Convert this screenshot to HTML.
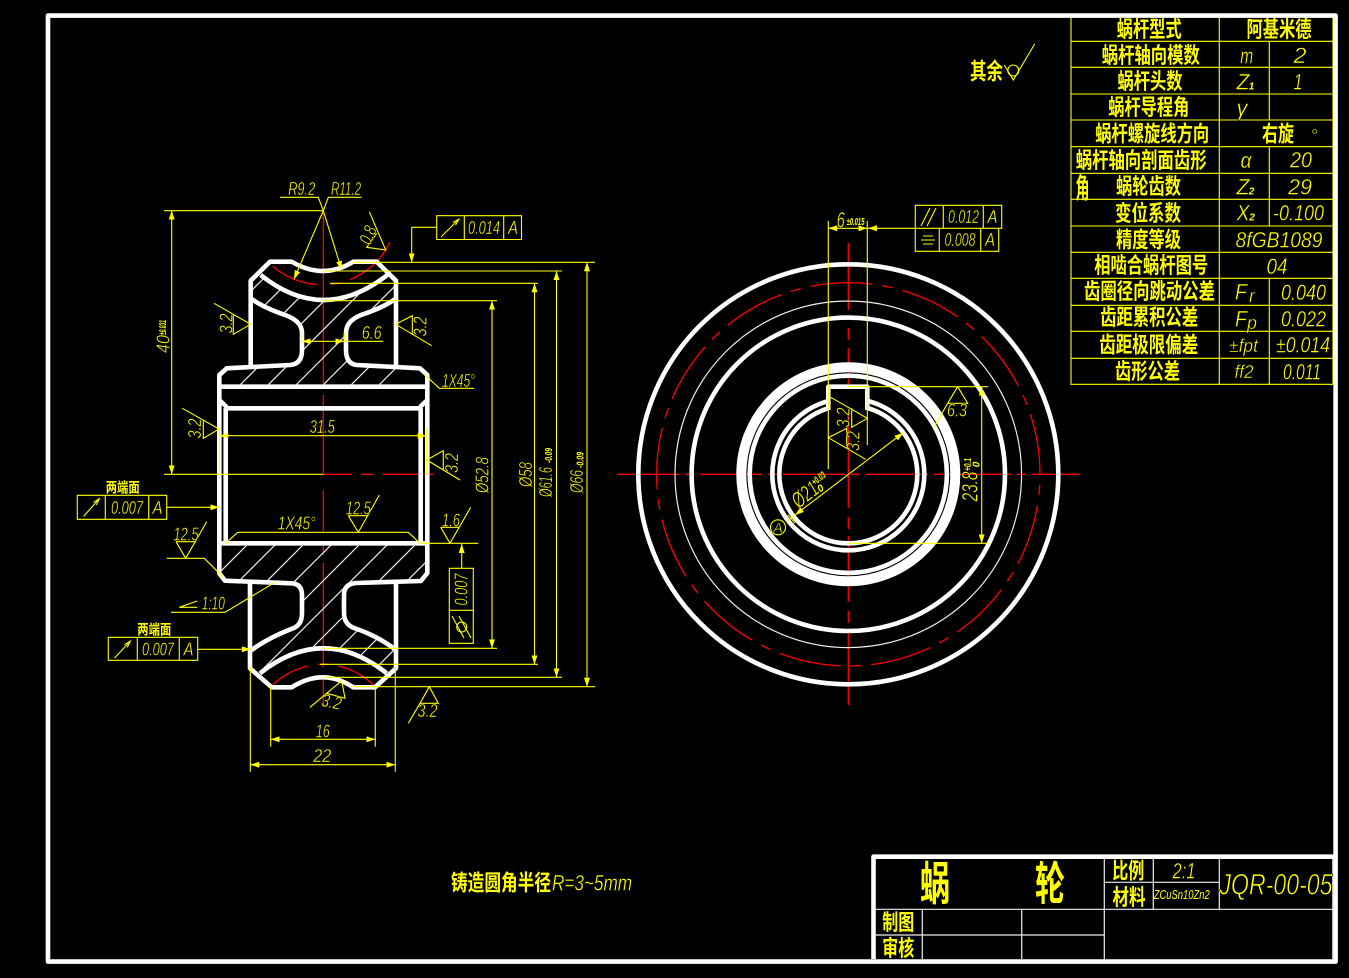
<!DOCTYPE html>
<html><head><meta charset="utf-8"><title>蜗轮</title>
<style>
html,body{margin:0;padding:0;background:#000}
svg{display:block}
text{dominant-baseline:central;text-anchor:middle;fill:#ff0}
.c{font-family:"Liberation Sans","Noto Sans CJK SC",sans-serif;font-weight:700;font-size:22px}
.l{font-family:"Liberation Sans",sans-serif;font-style:italic;font-size:22px;stroke:#000;stroke-width:.4px}
.s{font-size:18px}
.t{font-size:10px;stroke:none;font-weight:700}
.y{fill:none;stroke:#ff0;stroke-width:1.1}
.w{fill:none;stroke:#fff;stroke-width:4.6;stroke-linejoin:round}
.n{fill:none;stroke:#eee;stroke-width:1.2}
.r{fill:none;stroke:#f00;stroke-width:1.3}
</style></head><body>
<svg width="1349" height="978" viewBox="0 0 1349 978" xmlns="http://www.w3.org/2000/svg">
<defs>
<marker id="a" markerUnits="userSpaceOnUse" markerWidth="10" markerHeight="7" refX="9" refY="3" orient="auto-start-reverse"><path d="M0,0L9,3L0,6Z" fill="#ff0"/></marker>
<marker id="b" markerUnits="userSpaceOnUse" markerWidth="8" markerHeight="6" refX="7" refY="2.5" orient="auto"><path d="M0,0.5L7,2.5L0,4.5" fill="none" stroke="#ff0"/></marker>
<clipPath id="h1"><path d="M251,284L260.7,275Q323.3,325 387.3,275L396,282V298L361,315Q346,321 346,333V350Q346,364 357,365L420,368L427,375V387H219V375L227,368L290,365Q302,364 302,350V333Q302,321 285,315L251,298Z"/></clipPath>
<clipPath id="h2"><path d="M219,545H427V573L421,581L356,583Q344,584 344,595V613Q344,624 354,628Q378,636 396,650V668L387,673Q323,623 260,673L252,650Q268,638 293,628Q302,625 302,613V595Q302,584 292,583L225,581L219,573Z"/></clipPath>
</defs>
<rect width="1349" height="978" fill="#000"/>

<!-- red centre lines left view -->
<path class="r" d="M323.3,211V383M323.3,395V474M323.3,490V531M323.3,543V555M323.3,563V667M323.3,680V707M323.3,474.3H352M361,474.3H373M383,474.3H433"/>
<path class="r" d="M272.7,266A74,74 0 0 0 317,284.4M331,284.2L341,283M350,279.6A74,74 0 0 0 390,242M271,686.7A74,74 0 0 1 308.3,666M338.3,666A74,74 0 0 1 375,686.7M318,664.3H328"/>

<!-- hatch -->
<g clip-path="url(#h1)"><path class="n" d="M200,258L450,8M200,286L450,36M200,314L450,64M200,342L450,92M200,370L450,120M200,397L450,147M200,425L450,175M200,453L450,203M200,481L450,231M200,508L450,258M200,536L450,286M200,564L450,314"/></g>
<g clip-path="url(#h2)"><path class="n" d="M200,592L450,342M200,620L450,370M200,648L450,398M200,676L450,426M200,704L450,454M200,732L450,482M200,760L450,510M200,788L450,538M200,816L450,566M200,844L450,594M200,872L450,622"/></g>

<!-- left view white profile -->
<path class="w" d="M250.7,365V280.7L270,261.7H291.7Q323.3,280.3 353.3,261.7H376.7L396,280.7V365"/>
<path class="w" d="M260.7,275Q323.3,325 387.3,275"/>
<path class="w" d="M250.7,298.3Q262,307 285,315Q302,321 302,333V350Q302,364 290,365L226.7,368.3L219.3,375V543.3"/>
<path class="w" d="M396,298.3Q385,307 361,315Q346,321 346,333V350Q346,364 357,365L420,368.3L427.3,375V543.3"/>
<path class="w" d="M219.3,386.7H427.3M219.3,400L226.7,407M427.3,400L420,407M225.7,408.3H420.7M225.7,408.3V543.3M420.7,408.3V543.3M219.3,543.3H427.3"/>
<path class="w" d="M219.3,543.3V573.3L225,580.7L291.7,583.3Q302,584 302,595V613Q302,625 293,628.3Q268,638 251.7,650"/>
<path class="w" d="M427.3,543.3V573L421,581L356,583Q344,584 344,595V613Q344,624 354,628Q378,636 396,650"/>
<path class="w" d="M250,582V668.3L271.7,687.3H291.7Q323.3,667.3 353.3,687.3H375L396,668.3V582"/>
<path class="w" d="M260,673.3Q323.3,623.3 386.7,673.3"/>

<!-- left view yellow -->
<text class="l s" x="301.7" y="189" textLength="27" lengthAdjust="spacingAndGlyphs">R9.2</text>
<text class="l s" x="346" y="189" textLength="30" lengthAdjust="spacingAndGlyphs">R11.2</text>
<path class="y" d="M280,197.3H318.3L323.3,210.7M361.7,197.3H328.3L323.3,210.7"/>
<path class="y" d="M323.3,210.7L341.7,270" marker-end="url(#a)"/>
<path class="y" d="M323.3,210.7L294,279.3" marker-end="url(#a)"/>
<path class="y" d="M164,210.7H323.3M164,474.3H323.3"/>
<path class="y" d="M171.7,210.7V474.3" marker-start="url(#a)" marker-end="url(#a)"/>
<path class="y" d="M354,262.3H595M323.3,271H562M330,283.3H538M323.3,300.7H497M323.3,648.3H497M320,664.3H538M323.3,677.3H562M353.3,686.7H595"/>
<path class="y" d="M492,300.7V648.3" marker-start="url(#a)" marker-end="url(#a)"/>
<path class="y" d="M534.5,283.3V664.3" marker-start="url(#a)" marker-end="url(#a)"/>
<path class="y" d="M556.5,271V677.3" marker-start="url(#a)" marker-end="url(#a)"/>
<path class="y" d="M587,262.3V686.7" marker-start="url(#a)" marker-end="url(#a)"/>

<!-- 0.014 box -->
<path class="y" d="M436.7,215.7H521.5V239.5H436.7ZM464.3,215.7V239.5M503.7,215.7V239.5"/>
<path class="y" d="M436.7,227.3H411.7V262.3" marker-end="url(#a)"/>
<path class="y" d="M441,237L459,219" marker-end="url(#b)"/>
<text class="l s" x="484" y="228" textLength="32" lengthAdjust="spacingAndGlyphs">0.014</text>
<text class="l s" x="513" y="228" textLength="10" lengthAdjust="spacingAndGlyphs">A</text>

<!-- roughness marks -->
<path class="y" d="M369.3,211.7L385.7,250L366.7,247.3L376.7,233.3"/>
<text class="l s" transform="translate(368,235) rotate(-67)" x="0" y="0" textLength="18" lengthAdjust="spacingAndGlyphs">0.8</text>
<path class="y" d="M214,303.3L250.7,324.3L233.3,334.3V315"/>
<text class="l s" transform="translate(226.5,323.5) rotate(-90)" x="0" y="0" textLength="20" lengthAdjust="spacingAndGlyphs">3.2</text>
<path class="y" d="M431.7,345.7L395.7,324.3L412.3,315.7V335"/>
<text class="l s" transform="translate(420.5,326.5) rotate(-90)" x="0" y="0" textLength="20" lengthAdjust="spacingAndGlyphs">3.2</text>
<path class="y" d="M301.7,333V341.3M344.3,333V341.3"/>
<path class="y" d="M301.7,341.3H344.3" marker-start="url(#a)" marker-end="url(#a)"/>
<path class="y" d="M344.3,341.3H383.3"/>
<text class="l s" x="371.7" y="333" textLength="20" lengthAdjust="spacingAndGlyphs">6.6</text>
<path class="y" d="M423.3,373.3L439.3,388.3H474"/>
<text class="l s" x="458.5" y="381" textLength="33" lengthAdjust="spacingAndGlyphs">1X45°</text>
<path class="y" d="M219.3,428V474.3M426.7,428V474.3"/>
<path class="y" d="M219.3,435.7H426.7" marker-start="url(#a)" marker-end="url(#a)"/>
<text class="l s" x="322.3" y="427" textLength="25" lengthAdjust="spacingAndGlyphs">31.5</text>
<path class="y" d="M182.3,408.3L219,429L203.3,438.3V420"/>
<text class="l s" transform="translate(195,428.5) rotate(-90)" x="0" y="0" textLength="20" lengthAdjust="spacingAndGlyphs">3.2</text>
<path class="y" d="M460,480L426.7,460L443.3,450.7V470"/>
<text class="l s" transform="translate(452,463) rotate(-90)" x="0" y="0" textLength="20" lengthAdjust="spacingAndGlyphs">3.2</text>

<!-- rotated dims -->
<text class="l s" transform="translate(163.3,344) rotate(-90)" x="0" y="0" textLength="18" lengthAdjust="spacingAndGlyphs">40</text>
<text class="l t" transform="translate(163.5,327.5) rotate(-90)" x="0" y="0" textLength="15" lengthAdjust="spacingAndGlyphs">±0.031</text>
<text class="l s" transform="translate(482.7,475) rotate(-90)" x="0" y="0" textLength="36" lengthAdjust="spacingAndGlyphs">Ø52.8</text>
<text class="l s" transform="translate(526,474.5) rotate(-90)" x="0" y="0" textLength="25" lengthAdjust="spacingAndGlyphs">Ø58</text>
<text class="l s" transform="translate(546,482) rotate(-90)" x="0" y="0" textLength="30" lengthAdjust="spacingAndGlyphs">Ø61.6</text>
<text class="l t" transform="translate(549.5,455.5) rotate(-90)" x="0" y="0" textLength="15" lengthAdjust="spacingAndGlyphs">-0.09</text>
<text class="l s" transform="translate(577,481.5) rotate(-90)" x="0" y="0" textLength="23" lengthAdjust="spacingAndGlyphs">Ø66</text>
<text class="l t" transform="translate(581,460) rotate(-90)" x="0" y="0" textLength="16" lengthAdjust="spacingAndGlyphs">-0.09</text>

<!-- FCF left -->
<text class="c" style="font-size:14px" x="122.7" y="487.7" textLength="34" lengthAdjust="spacingAndGlyphs">两端面</text>
<path class="y" d="M77.3,495.3H166.7V519.3H77.3ZM105.3,495.3V519.3M148.7,495.3V519.3"/>
<path class="y" d="M166.7,507.3H219.3" marker-end="url(#a)"/>
<path class="y" d="M83.5,516.5L99.5,498.5" marker-end="url(#b)"/>
<text class="l s" x="127" y="508" textLength="32" lengthAdjust="spacingAndGlyphs">0.007</text>
<text class="l s" x="157.5" y="508" textLength="10" lengthAdjust="spacingAndGlyphs">A</text>
<text class="c" style="font-size:14px" x="154.3" y="629.3" textLength="34" lengthAdjust="spacingAndGlyphs">两端面</text>
<path class="y" d="M108.3,637.3H197.7V660.3H108.3ZM137.3,637.3V660.3M179.3,637.3V660.3"/>
<path class="y" d="M197.7,649.3H251" marker-end="url(#a)"/>
<path class="y" d="M114.5,658L130.5,641" marker-end="url(#b)"/>
<text class="l s" x="158" y="649.5" textLength="32" lengthAdjust="spacingAndGlyphs">0.007</text>
<text class="l s" x="188.5" y="649.5" textLength="10" lengthAdjust="spacingAndGlyphs">A</text>

<path class="y" d="M225.7,543.3L237.7,532.3H408.3L420,543.3H478.3"/>
<text class="l s" x="296.7" y="523.5" textLength="38" lengthAdjust="spacingAndGlyphs">1X45°</text>
<path class="y" d="M348.3,515.7H368.3M348.3,515.7L358.3,532.3L379.3,495"/>
<text class="l s" x="358.3" y="508.3" textLength="25" lengthAdjust="spacingAndGlyphs">12.5</text>
<path class="y" d="M440.7,527.3H459.3M440.7,527.3L450,543.3L470.7,507.3"/>
<text class="l s" x="451" y="520.7" textLength="18" lengthAdjust="spacingAndGlyphs">1.6</text>
<path class="y" d="M176,541.7H196M176,541.7L185.7,558.3L206.7,521.7M166.7,558.3H204.3L222.7,576.7"/>
<text class="l s" x="186" y="534.3" textLength="25" lengthAdjust="spacingAndGlyphs">12.5</text>
<path class="y" d="M171,612.3H225L275,582.3M197.3,601L179.3,607.3H197.3"/>
<text class="l s" x="213.3" y="603.5" textLength="23" lengthAdjust="spacingAndGlyphs">1:10</text>
<path class="y" d="M449.3,568.3H473.3V643.3H449.3ZM449.3,610.3H473.3"/>
<path class="y" d="M461.7,568.3V544" marker-end="url(#a)"/>
<text class="l s" transform="translate(461.7,589.5) rotate(-90)" x="0" y="0" textLength="32" lengthAdjust="spacingAndGlyphs">0.007</text>
<circle class="y" cx="461.7" cy="627" r="5"/>
<path class="y" d="M452,616L464,638M459,616L471,638"/>
<path class="y" d="M429.3,686.7L420,703.3H438.3ZM420,703.3L408.3,723.3"/>
<text class="l s" x="427.5" y="711" textLength="20" lengthAdjust="spacingAndGlyphs">3.2</text>
<path class="y" d="M310,707.3L341.7,680.7L345,698.3L326.7,693.3"/>
<text class="l s" transform="translate(331.5,702) rotate(12)" x="0" y="0" textLength="20" lengthAdjust="spacingAndGlyphs">3.2</text>
<path class="y" d="M270.7,686.7V746.7M375.3,686.7V746.7"/>
<path class="y" d="M270.7,739.3H375.3" marker-start="url(#a)" marker-end="url(#a)"/>
<text class="l s" x="322.7" y="731.5" textLength="14" lengthAdjust="spacingAndGlyphs">16</text>
<path class="y" d="M250.3,667V771.7M395.3,667V771.7"/>
<path class="y" d="M250.3,764.7H395.3" marker-start="url(#a)" marker-end="url(#a)"/>
<text class="l s" x="322.3" y="756" textLength="18" lengthAdjust="spacingAndGlyphs">22</text>

<!-- right view -->
<path class="r" d="M617,474.3H1080" stroke-dasharray="62 6 9 6"/>
<path class="r" d="M848.3,243V310M848.3,328V340M848.3,348V474M848.3,474V508M848.3,516.7V529M848.3,536V601.7M848.3,611V622.7M848.3,633V705"/>
<circle class="r" cx="848.3" cy="474.3" r="191.7" stroke-dasharray="62 10 10.67 10" stroke-dashoffset="61.77"/>
<circle class="w" cx="848.3" cy="474.3" r="210" stroke-width="4.8"/>
<circle class="n" cx="848.3" cy="474.3" r="173.3"/>
<circle class="w" cx="848.3" cy="474.3" r="156.7" stroke-width="4.8"/>
<circle class="w" style="stroke-width:10" cx="848.3" cy="474.3" r="107"/>
<circle class="w" cx="848.3" cy="474.3" r="98.6" stroke-width="4.6"/>
<circle class="w" cx="848.3" cy="474.3" r="76" stroke-width="4.8"/>
<circle class="w" cx="848.3" cy="474.3" r="69"/>
<rect x="829" y="388" width="37.6" height="24" fill="#000"/>
<path class="w" d="M828.3,410V386.7H867.3V410"/>

<path class="y" d="M828.3,221V469M867.3,221V445M848.3,386.7H988.3M848.3,543.3H988.3"/>
<path class="y" d="M828.3,228.3H867.3" marker-start="url(#a)" marker-end="url(#a)"/>
<path class="y" d="M915.3,228.3H868" marker-end="url(#a)"/>
<text class="l" x="840.7" y="220" textLength="8" lengthAdjust="spacingAndGlyphs">6</text>
<text class="l t" x="855.5" y="222.5" textLength="18" lengthAdjust="spacingAndGlyphs">±0.015</text>
<path class="y" d="M915.3,205.3H1001.7V228.3H915.3ZM943.3,205.3V228.3M983.3,205.3V228.3M915.3,228.3V251.3H998.7V228.3M939.3,228.3V251.3M980.7,228.3V251.3"/>
<path class="y" d="M921,226L930,208M927,226L936,208M923,236H933M921,240H935M923,244H933"/>
<text class="l s" x="963.5" y="217" textLength="31" lengthAdjust="spacingAndGlyphs">0.012</text>
<text class="l s" x="992.5" y="217" textLength="10" lengthAdjust="spacingAndGlyphs">A</text>
<text class="l s" x="960" y="240" textLength="31" lengthAdjust="spacingAndGlyphs">0.008</text>
<text class="l s" x="990" y="240" textLength="10" lengthAdjust="spacingAndGlyphs">A</text>
<path class="y" d="M957.7,386.7L947.7,403.3H967.7ZM947.7,403.3L934,427"/>
<text class="l s" x="957" y="410.5" textLength="20" lengthAdjust="spacingAndGlyphs">6.3</text>
<path class="y" d="M830.7,397.3L867.3,418.3L851.7,427.3V408.3M865.7,459.3L828.3,437.7L846.7,428.3V448.3"/>
<text class="l s" transform="translate(843.3,417.5) rotate(-90)" x="0" y="0" textLength="20" lengthAdjust="spacingAndGlyphs">3.2</text>
<text class="l s" transform="translate(853.5,441) rotate(-90)" x="0" y="0" textLength="20" lengthAdjust="spacingAndGlyphs">3.2</text>
<path class="y" d="M981.7,386.7V543.3" marker-start="url(#a)" marker-end="url(#a)"/>
<text class="l" transform="translate(970,486.5) rotate(-90)" x="0" y="0" textLength="30" lengthAdjust="spacingAndGlyphs">23.8</text>
<text class="l t" transform="translate(968.5,464.5) rotate(-90)" x="0" y="0" textLength="13" lengthAdjust="spacingAndGlyphs">+0.1</text>
<text class="l t" transform="translate(977,464.5) rotate(-90)" x="0" y="0">0</text>
<path class="y" d="M795,515L903.3,432.7" marker-start="url(#a)" marker-end="url(#a)"/>
<path class="y" d="M795,515L786.7,521.7M788,515L795,523"/>
<text class="l" transform="translate(805,494.5) rotate(-38)" x="0" y="0" textLength="28" lengthAdjust="spacingAndGlyphs">Ø21</text>
<text class="l t" transform="translate(819,479) rotate(-38)" x="0" y="0" textLength="15" lengthAdjust="spacingAndGlyphs">+0.03</text>
<text class="l t" transform="translate(821,489) rotate(-38)" x="0" y="0">0</text>
<circle class="y" cx="778" cy="527.3" r="7.5"/>
<text class="l s" style="font-size:14px" x="778" y="527.5">A</text>

<!-- surface note -->
<text class="c" style="font-size:23px" x="986.5" y="70.8" textLength="33" lengthAdjust="spacingAndGlyphs">其余</text>
<path class="y" d="M1004.3,65L1013.3,80L1034.7,44"/>
<circle class="y" cx="1013.3" cy="70.5" r="5.5"/>

<!-- bottom note -->
<text class="c" x="501" y="883" textLength="100" lengthAdjust="spacingAndGlyphs">铸造圆角半径</text>
<text class="l" x="592" y="883" textLength="80" lengthAdjust="spacingAndGlyphs">R=3~5mm</text>

<!-- table -->
<path class="y" d="M1071,17V384.3H1333M1071,41.3H1333M1071,67.3H1333M1071,94H1333M1071,120H1333M1071,146.7H1333M1071,173.3H1333M1071,199.3H1333M1071,226H1333M1071,252.3H1333M1071,278.3H1333M1071,305.3H1333M1071,331.3H1333M1071,358.3H1333M1219.3,17V384.3M1269.3,41.3V120M1269.3,146.7V226M1269.3,278.3V384.3M1333,17V384.3"/>
<text class="c" x="1149.2" y="29.3" textLength="65" lengthAdjust="spacingAndGlyphs">蜗杆型式</text>
<text class="c" x="1150.8" y="55.7" textLength="98" lengthAdjust="spacingAndGlyphs">蜗杆轴向模数</text>
<text class="c" x="1150" y="81.7" textLength="65" lengthAdjust="spacingAndGlyphs">蜗杆头数</text>
<text class="c" x="1148.8" y="107.3" textLength="81" lengthAdjust="spacingAndGlyphs">蜗杆导程角</text>
<text class="c" x="1152.2" y="134" textLength="114" lengthAdjust="spacingAndGlyphs">蜗杆螺旋线方向</text>
<text class="c" x="1141.2" y="160.7" textLength="131" lengthAdjust="spacingAndGlyphs">蜗杆轴向剖面齿形</text>
<text class="c" style="font-size:28px" x="1082.5" y="188.5" textLength="14" lengthAdjust="spacingAndGlyphs">角</text>
<text class="c" x="1148.5" y="186.7" textLength="65" lengthAdjust="spacingAndGlyphs">蜗轮齿数</text>
<text class="c" x="1148" y="213.3" textLength="66" lengthAdjust="spacingAndGlyphs">变位系数</text>
<text class="c" x="1148.5" y="240" textLength="65" lengthAdjust="spacingAndGlyphs">精度等级</text>
<text class="c" x="1151.2" y="265.7" textLength="114" lengthAdjust="spacingAndGlyphs">相啮合蜗杆图号</text>
<text class="c" x="1149.5" y="291.7" textLength="131" lengthAdjust="spacingAndGlyphs">齿圈径向跳动公差</text>
<text class="c" x="1149.2" y="317.7" textLength="98" lengthAdjust="spacingAndGlyphs">齿距累积公差</text>
<text class="c" x="1148.8" y="345" textLength="99" lengthAdjust="spacingAndGlyphs">齿距极限偏差</text>
<text class="c" x="1147.5" y="371.7" textLength="65" lengthAdjust="spacingAndGlyphs">齿形公差</text>
<text class="c" x="1279" y="29.3" textLength="65" lengthAdjust="spacingAndGlyphs">阿基米德</text>
<text class="c" x="1278" y="134" textLength="32" lengthAdjust="spacingAndGlyphs">右旋</text>
<text class="l s" x="1314" y="136">°</text>
<text class="l" x="1246.7" y="56" textLength="13" lengthAdjust="spacingAndGlyphs">m</text>
<text class="l" x="1300" y="55.5" textLength="13" lengthAdjust="spacingAndGlyphs">2</text>
<text class="l" x="1243" y="82" textLength="13" lengthAdjust="spacingAndGlyphs">Z</text><text class="l t" x="1251.5" y="87">1</text>
<text class="l" x="1298" y="82" textLength="9" lengthAdjust="spacingAndGlyphs">1</text>
<text class="l" x="1242" y="108">γ</text>
<text class="l" x="1246" y="160.5" textLength="11" lengthAdjust="spacingAndGlyphs">α</text>
<text class="l" x="1301" y="160" textLength="22" lengthAdjust="spacingAndGlyphs">20</text>
<text class="l" x="1243" y="187" textLength="13" lengthAdjust="spacingAndGlyphs">Z</text><text class="l t" x="1251.5" y="192">2</text>
<text class="l" x="1300" y="187" textLength="24" lengthAdjust="spacingAndGlyphs">29</text>
<text class="l" x="1243" y="213" textLength="13" lengthAdjust="spacingAndGlyphs">X</text><text class="l t" x="1252" y="218">2</text>
<text class="l" x="1298.5" y="213" textLength="51" lengthAdjust="spacingAndGlyphs">-0.100</text>
<text class="l" x="1279" y="240" textLength="87" lengthAdjust="spacingAndGlyphs">8fGB1089</text>
<text class="l" x="1277" y="266.5" textLength="21" lengthAdjust="spacingAndGlyphs">04</text>
<text class="l" x="1241" y="292" textLength="12" lengthAdjust="spacingAndGlyphs">F</text><text class="l s" x="1252" y="296">r</text>
<text class="l" x="1303.5" y="292.5" textLength="45" lengthAdjust="spacingAndGlyphs">0.040</text>
<text class="l" x="1241" y="319" textLength="12" lengthAdjust="spacingAndGlyphs">F</text><text class="l s" x="1252" y="323">p</text>
<text class="l" x="1303.5" y="319" textLength="45" lengthAdjust="spacingAndGlyphs">0.022</text>
<text class="l s" x="1243.5" y="346" textLength="29" lengthAdjust="spacingAndGlyphs">±fpt</text>
<text class="l" x="1303" y="345" textLength="54" lengthAdjust="spacingAndGlyphs">±0.014</text>
<text class="l s" x="1244" y="372" textLength="19" lengthAdjust="spacingAndGlyphs">ff2</text>
<text class="l" x="1302" y="372" textLength="38" lengthAdjust="spacingAndGlyphs">0.011</text>

<!-- title block -->
<path class="n" d="M876,909.3H1333M1104.3,882.3H1219.3M1104.3,858V959M1153.3,858V909.3M1219.3,858V909.3M876,935H1104.3M922.3,909.3V959M1021.7,909.3V959M1332.8,858V959"/>
<text class="c" style="font-size:46px" x="935" y="884" textLength="30" lengthAdjust="spacingAndGlyphs">蜗</text>
<text class="c" style="font-size:46px" x="1050" y="884" textLength="30" lengthAdjust="spacingAndGlyphs">轮</text>
<text class="c" x="1128.3" y="871" textLength="32" lengthAdjust="spacingAndGlyphs">比例</text>
<text class="c" x="1129" y="897.7" textLength="33" lengthAdjust="spacingAndGlyphs">材料</text>
<text class="l" x="1184" y="871" textLength="23" lengthAdjust="spacingAndGlyphs">2:1</text>
<text class="l" style="font-size:13px;stroke:none" x="1181.7" y="894.3" textLength="56" lengthAdjust="spacingAndGlyphs">ZCuSn10Zn2</text>
<text class="l" style="font-size:30px;stroke-width:.7px" x="1276" y="885" textLength="113" lengthAdjust="spacingAndGlyphs">JQR-00-05</text>
<text class="c" x="898.3" y="922.7" textLength="32" lengthAdjust="spacingAndGlyphs">制图</text>
<text class="c" x="898.3" y="948.3" textLength="32" lengthAdjust="spacingAndGlyphs">审核</text>
<path class="w" d="M873.5,959V856.7H1335.6"/>

<!-- frame -->
<rect x="48" y="15.6" width="1287.6" height="946" class="w" stroke-width="4.7"/>
</svg>
</body></html>
